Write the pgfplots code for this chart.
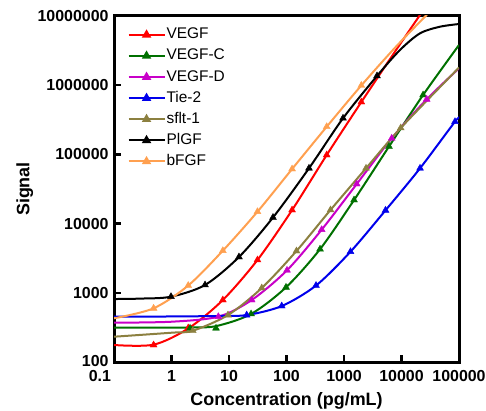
\documentclass[border=0pt]{standalone}
\usepackage{fontspec}
\setmainfont{Liberation Sans}
\usepackage{pgfplots}
\pgfplotsset{compat=1.18}

\definecolor{cvegf}{RGB}{255,0,0}
\definecolor{cvegfc}{RGB}{0,112,0}
\definecolor{cvegfd}{RGB}{200,0,200}
\definecolor{ctie}{RGB}{0,0,235}
\definecolor{csflt}{RGB}{140,128,64}
\definecolor{cplgf}{RGB}{0,0,0}
\definecolor{cbfgf}{RGB}{255,160,80}

\begin{document}
\begin{tikzpicture}[x=1bp,y=1bp]
\path[use as bounding box] (0,0) rectangle (486,410);
\begin{axis}[
  at={(114bp,48bp)}, anchor=south west,
  scale only axis, width=345bp, height=346bp,
  xmode=log, ymode=log,
  xmin=0.1, xmax=100000, ymin=100, ymax=10000000,
  xtick={0.1,1,10,100,1000,10000,100000},
  xticklabels={\llap{\raisebox{-3bp}{0.1}\hspace{3bp}},1,10,100,1000,10000,100000},
  ytick={100,1000,10000,100000,1000000,10000000},
  yticklabels={\raisebox{2bp}{100},1000,10000,100000,1000000,10000000},
  xminorticks=false, yminorticks=false,
  tick pos=left, tick align=inside,
  major tick length=7bp,
  axis line style={line width=3bp},
  every tick/.style={black, line width=2.5bp},
  ticklabel style={font=\bfseries\fontsize{16}{16}\selectfont, inner sep=1bp},
  xticklabel style={yshift=-7.3bp},
  yticklabel style={xshift=-4.3bp},
  xlabel={Concentration (pg/mL)},
  ylabel={Signal},
  label style={font=\bfseries\fontsize{18}{18}\selectfont},
  xlabel style={yshift=-6bp},
  legend cell align=left,
  legend style={at={(0.03,0.975)}, anchor=north west, draw=none, fill=none,
    font=\fontsize{15.5}{15.5}\selectfont, row sep=5.1bp,
    nodes={inner sep=1bp, text height=11bp, text depth=3bp}},
  legend image code/.code={\draw[mark repeat=2,mark phase=2,#1]
    plot coordinates {(0bp,0bp) (18bp,0bp) (36bp,0bp)};},
]
\addlegendimage{cvegf, line width=2bp, mark=triangle*, mark size=3.5bp}
\addlegendentry{VEGF}
\addlegendimage{cvegfc, line width=2bp, mark=triangle*, mark size=3.5bp}
\addlegendentry{VEGF-C}
\addlegendimage{cvegfd, line width=2bp, mark=triangle*, mark size=3.5bp}
\addlegendentry{VEGF-D}
\addlegendimage{ctie, line width=2bp, mark=triangle*, mark size=3.5bp}
\addlegendentry{Tie-2}
\addlegendimage{csflt, line width=2bp, mark=triangle*, mark size=3.5bp}
\addlegendentry{sflt-1}
\addlegendimage{cplgf, line width=2bp, mark=triangle*, mark size=3.5bp}
\addlegendentry{PlGF}
\addlegendimage{cbfgf, line width=2bp, mark=triangle*, mark size=3.5bp}
\addlegendentry{bFGF}

% VEGF
\addplot[cvegf, line width=2bp, smooth, forget plot] coordinates {
  (0.1,176) (0.488,178) (1.953,305) (7.81,787) (31.25,2980) (125,15700)
  (500,98000) (2000,571000) (8000,3200000) (25000,12800000)};
\addplot[cvegf, only marks, mark=triangle*, mark size=4bp, forget plot] coordinates {
  (0.488,176) (1.953,310) (7.81,787) (31.25,2980) (125,15700) (500,98000) (2000,571000)};

% VEGF-C
\addplot[cvegfc, line width=2bp, smooth, forget plot] coordinates {
  (0.1,313) (1,314) (2.1,316) (5.94,330) (24.2,494) (98,1200) (383,4270)
  (1494,21900) (6060,130000) (23700,721000) (100000,3810000)};
\addplot[cvegfc, only marks, mark=triangle*, mark size=4bp, forget plot] coordinates {
  (2.1,307) (5.94,307) (24.2,494) (98,1200) (383,4270) (1494,21900) (6060,130000) (23700,721000)};

% VEGF-D
\addplot[cvegfd, line width=2bp, smooth, forget plot] coordinates {
  (0.1,370) (1,382) (6.52,452) (24.8,787) (102,2115) (409,8170) (1663,37300)
  (6760,171000) (27400,625000) (100000,1750000)};
\addplot[cvegfd, only marks, mark=triangle*, mark size=4bp, forget plot] coordinates {
  (6.52,452) (24.8,787) (102,2115) (409,8170) (1663,37300) (6760,171000) (27400,625000)};

% Tie-2
\addplot[ctie, line width=2bp, smooth, forget plot] coordinates {
  (0.1,452) (1,455) (6,462) (20.3,477) (82.6,644) (326,1274) (1297,3928)
  (5270,15560) (21000,63000) (85100,297000) (100000,330000)};
\addplot[ctie, only marks, mark=triangle*, mark size=4bp, forget plot] coordinates {
  (20.3,477) (82.6,644) (326,1274) (1297,3928) (5270,15560) (21000,63000) (85100,297000)};

% sflt-1
\addplot[csflt, line width=2bp, smooth, forget plot] coordinates {
  (0.1,232) (1,265) (2.34,283) (9.6,477) (37.1,1172) (149,4018) (582,15740)
  (2415,63000) (9690,241000) (100000,1800000)};
\addplot[csflt, only marks, mark=triangle*, mark size=4bp, forget plot] coordinates {
  (2.34,283) (9.6,477) (37.1,1172) (149,4018) (582,15740) (2415,63000) (9690,241000)};

% PlGF
\addplot[cplgf, line width=2bp, smooth, forget plot] coordinates {
  (0.1,813) (0.3,825) (0.98,879) (3.83,1297) (14.9,3290) (58.2,12250)
  (246,63000) (961,333000) (3750,1360000) (9420,3230000) (21000,5620000)
  (46700,7000000) (100000,7660000)};
\addplot[cplgf, only marks, mark=triangle*, mark size=4bp, forget plot] coordinates {
  (0.98,879) (3.83,1297) (14.9,3290) (58.2,12250) (246,63000) (961,333000) (3750,1360000)};

% bFGF
\addplot[cbfgf, line width=2bp, smooth, forget plot] coordinates {
  (0.1,428) (0.488,597) (1.953,1274) (7.81,4060) (31.25,14860) (125,61500)
  (500,251000) (2000,991000) (8000,3600000) (30000,11200000)};
\addplot[cbfgf, only marks, mark=triangle*, mark size=4bp, forget plot] coordinates {
  (0.488,597) (1.953,1274) (7.81,4060) (31.25,14860) (125,61500) (500,251000) (2000,991000)};
\end{axis}
\end{tikzpicture}
\end{document}
